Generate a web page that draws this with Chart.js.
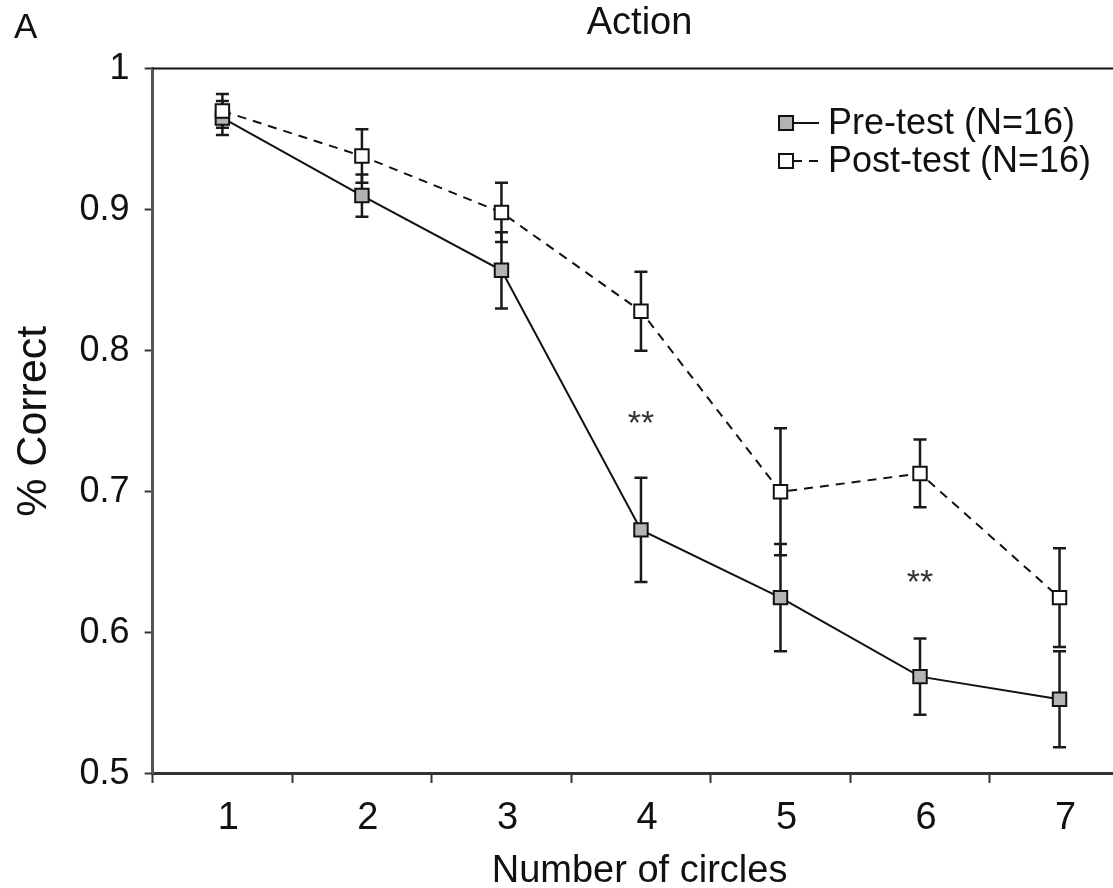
<!DOCTYPE html>
<html>
<head>
<meta charset="utf-8">
<script src="https://cdn.jsdelivr.net/npm/chart.js@4.4.1/dist/chart.umd.min.js"></script>
<style>
  html, body { margin: 0; padding: 0; background: #fff; overflow: hidden; }
  #wrap { width: 1113px; height: 888px; position: relative; overflow: hidden; }
  #chart { display: block; width: 1138px; height: 888px; }
</style>
</head>
<body>
<div id="wrap"><canvas id="chart" width="1138" height="888"></canvas></div>
<script>
// Number of circles shown on the x axis
const circles = [1, 2, 3, 4, 5, 6, 7];
const circleLabels = ['1', '2', '3', '4', '5', '6', '7'];

// Mean proportion correct and standard error, pre-test
const preTest = [0.965, 0.910, 0.857, 0.673, 0.625, 0.569, 0.553];
const preTestErr = [0.012, 0.015, 0.027, 0.037, 0.038, 0.027, 0.034];

// Mean proportion correct and standard error, post-test
const postTest = [0.970, 0.938, 0.898, 0.828, 0.700, 0.713, 0.625];
const postTestErr = [0.012, 0.019, 0.021, 0.028, 0.045, 0.024, 0.035];

// Significance markers per set size
const sigMarks = ['', '', '', '**', '', '**', ''];

// Y axis ticks and their labels
const yTicks = [0.5, 0.6, 0.7, 0.8, 0.9, 1];
const yTickLabels = ['0.5', '0.6', '0.7', '0.8', '0.9', '1'];

const FONT = '"Liberation Sans", Arial, Helvetica, sans-serif';
const INK = '#111';

// tick marks sit between the set sizes, labels on them
const xTickValues = circles.flatMap(c => [c - 0.5, c]);

const errorBars = {
  id: 'errorBars',
  beforeDatasetsDraw(chart) {
    const { ctx, scales: { x, y } } = chart;
    ctx.save();
    ctx.strokeStyle = '#1a1a1a';
    ctx.lineWidth = 2.5;
    chart.data.datasets.forEach(ds => {
      ds.data.forEach((pt, i) => {
        const e = ds.errors[i];
        const px = x.getPixelForValue(pt.x);
        const top = y.getPixelForValue(pt.y + e);
        const bot = y.getPixelForValue(pt.y - e);
        ctx.beginPath();
        ctx.moveTo(px, top); ctx.lineTo(px, bot);
        ctx.moveTo(px - 6.5, top); ctx.lineTo(px + 6.5, top);
        ctx.moveTo(px - 6.5, bot); ctx.lineTo(px + 6.5, bot);
        ctx.stroke();
      });
    });
    ctx.restore();
  }
};

const extras = {
  id: 'extras',
  afterDraw(chart) {
    const { ctx, chartArea, scales: { x, y } } = chart;
    ctx.save();
    // upper frame line
    ctx.strokeStyle = '#111';
    ctx.lineWidth = 2;
    ctx.beginPath();
    ctx.moveTo(chartArea.left, chartArea.top);
    ctx.lineTo(chartArea.right, chartArea.top);
    ctx.stroke();

    // panel letter
    ctx.fillStyle = INK;
    ctx.font = '35px ' + FONT;
    ctx.textAlign = 'left';
    ctx.textBaseline = 'alphabetic';
    ctx.fillText('A', 14, 38);

    // significance stars between the two error bars
    ctx.fillStyle = '#333';
    ctx.font = '34px ' + FONT;
    ctx.textAlign = 'center';
    sigMarks.forEach((m, i) => {
      if (!m) return;
      const mid = ((preTest[i] + preTestErr[i]) + (postTest[i] - postTestErr[i])) / 2;
      ctx.fillText(m, x.getPixelForValue(circles[i]), y.getPixelForValue(mid) + 20);
    });

    // legend
    const rows = chart.data.datasets;
    const lx = 786, ly = 123, gap = 38;
    rows.slice().sort((a, b) => a.legendRow - b.legendRow).forEach((ds, r) => {
      const cy = ly + r * gap;
      ctx.strokeStyle = '#111';
      ctx.lineWidth = 2;
      ctx.setLineDash(ds.borderDash || []);
      ctx.beginPath();
      ctx.moveTo(lx + 7, cy);
      ctx.lineTo(lx + 33, cy);
      ctx.stroke();
      ctx.setLineDash([]);
      ctx.fillStyle = ds.pointBackgroundColor;
      ctx.fillRect(lx - 7, cy - 7, 14, 14);
      ctx.strokeRect(lx - 7, cy - 7, 14, 14);
      ctx.fillStyle = INK;
      ctx.font = '36px ' + FONT;
      ctx.textAlign = 'left';
      ctx.textBaseline = 'middle';
      ctx.fillText(ds.label, lx + 42, cy + 1);
    });
    ctx.restore();
  }
};

new Chart(document.getElementById('chart'), {
  type: 'line',
  data: {
    datasets: [
      {
        label: 'Post-test (N=16)',
        legendRow: 1,
        data: circles.map((c, i) => ({ x: c, y: postTest[i] })),
        errors: postTestErr,
        borderColor: '#111',
        borderWidth: 2,
        borderDash: [9, 7],
        pointStyle: 'rect',
        pointRadius: 9.5,
        pointBorderWidth: 2,
        pointBorderColor: '#111',
        pointBackgroundColor: '#ffffff',
        order: 0
      },
      {
        label: 'Pre-test (N=16)',
        legendRow: 0,
        data: circles.map((c, i) => ({ x: c, y: preTest[i] })),
        errors: preTestErr,
        borderColor: '#111',
        borderWidth: 2,
        pointStyle: 'rect',
        pointRadius: 9.5,
        pointBorderWidth: 2,
        pointBorderColor: '#111',
        pointBackgroundColor: '#b3b3b3',
        order: 1
      }
    ]
  },
  options: {
    responsive: false,
    animation: false,
    devicePixelRatio: 1,
    layout: { padding: { left: 8, right: 0, top: 0, bottom: 0 } },
    plugins: {
      legend: { display: false },
      tooltip: { enabled: false },
      title: {
        display: true,
        fullSize: false,
        text: 'Action',
        color: INK,
        font: { family: FONT, size: 38, weight: 'normal', lineHeight: 1.2 },
        padding: { top: 1, bottom: 22 }
      }
    },
    scales: {
      x: {
        type: 'linear',
        min: 0.5,
        max: 7.48,
        afterBuildTicks: s => { s.ticks = xTickValues.map(v => ({ value: v })); },
        afterFit: s => { s.paddingLeft = 0; s.paddingRight = 0; },
        ticks: {
          autoSkip: false,
          maxRotation: 0,
          labelOffset: 6,
          padding: 13,
          color: INK,
          font: { family: FONT, size: 38 },
          callback: v => {
            const i = circles.indexOf(v);
            return i >= 0 ? circleLabels[i] : '';
          }
        },
        grid: {
          drawOnChartArea: false,
          tickLength: 9,
          tickWidth: 2,
          tickColor: c => (c.tick && Number.isInteger(c.tick.value)) ? 'rgba(0,0,0,0)' : '#333'
        },
        border: { color: '#333', width: 3 },
        title: {
          display: true,
          text: 'Number of circles',
          color: INK,
          font: { family: FONT, size: 38, lineHeight: 0.88 },
          padding: { top: 0, bottom: 0 }
        }
      },
      y: {
        min: 0.5,
        max: 1,
        afterBuildTicks: s => { s.ticks = yTicks.map(v => ({ value: v })); },
        ticks: {
          padding: 15,
          color: INK,
          font: { family: FONT, size: 36 },
          callback: v => {
            const i = yTicks.findIndex(t => Math.abs(t - v) < 1e-9);
            return i >= 0 ? yTickLabels[i] : '';
          }
        },
        grid: {
          drawOnChartArea: false,
          tickLength: 8,
          tickWidth: 2,
          tickColor: '#333'
        },
        border: { color: '#555', width: 3 },
        title: {
          display: true,
          text: '% Correct',
          color: INK,
          font: { family: FONT, size: 43, lineHeight: 1.2 },
          padding: { top: 0, bottom: 5 }
        }
      }
    }
  },
  plugins: [errorBars, extras]
});
</script>
</body>
</html>
